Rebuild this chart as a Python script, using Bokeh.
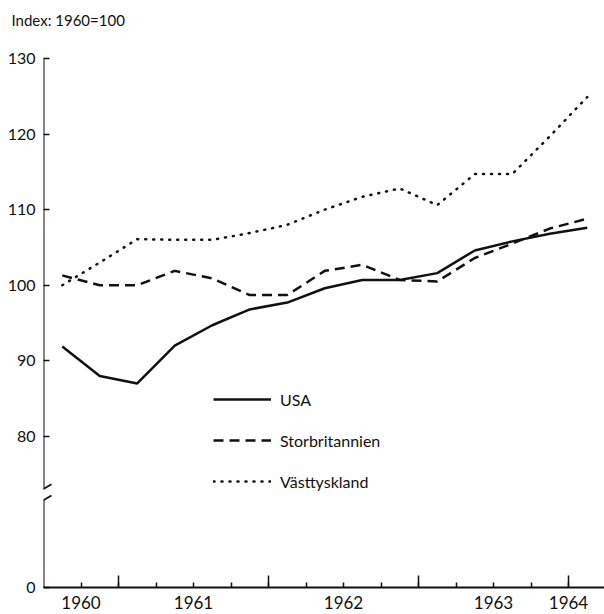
from bokeh.plotting import figure
from bokeh.models import FixedTicker, Legend, LegendItem, Arrow, Range1d
from bokeh.embed import file_html
from bokeh.resources import INLINE

# ---- data (quarterly index, 1960 = 100) ----
quarters = ["1960Q3", "1960Q4", "1961Q1", "1961Q2", "1961Q3", "1961Q4",
            "1962Q1", "1962Q2", "1962Q3", "1962Q4", "1963Q1", "1963Q2",
            "1963Q3", "1963Q4", "1964Q1"]
usa = [91.9, 88.0, 87.0, 92.0, 94.7, 96.8, 97.7, 99.6, 100.7, 100.7,
       101.6, 104.6, 105.8, 106.8, 107.6]
storbritannien = [101.3, 100.0, 100.0, 101.9, 100.9, 98.7, 98.7, 101.9,
                  102.7, 100.7, 100.5, 103.6, 105.5, 107.5, 108.8]
vasttyskland = [100.0, 103.0, 106.1, 106.0, 106.0, 106.9, 108.0, 110.0,
                111.7, 112.8, 110.6, 114.7, 114.7, 119.7, 124.9]

year_labels = {1960.75: "1960", 1961.5: "1961", 1962.5: "1962",
               1963.5: "1963", 1964.0: "1964"}
year_bounds = [1961.0, 1962.0, 1963.0, 1964.0]
y_ticks = [60, 80, 90, 100, 110, 120, 130]
y_labels = {60: "0"}
BREAK_Y = 72.3
TITLE = "Index: 1960=100"

FONT = "Lato"


def qpos(q):
    yr, qq = q.split("Q")
    return int(yr) + (int(qq) - 0.5) / 4.0


x = [qpos(q) for q in quarters]

X0, X1 = 1960.5, 1964.24
p = figure(frame_width=561, frame_height=529,
           x_range=Range1d(X0, X1), y_range=Range1d(60, 130),
           output_backend="svg", toolbar_location=None,
           min_border_left=43, min_border_right=0,
           min_border_top=57, min_border_bottom=28)
p.outline_line_color = None
p.xgrid.visible = False
p.ygrid.visible = False
p.background_fill_color = "white"

ink = "#111111"

# second (blank) line lifts the title towards the top of the page
p.title.text = TITLE + "\n "
p.title.align = "left"
p.title.offset = -32
p.title.standoff = 20
p.title.vertical_align = "top"
p.title.text_font = FONT
p.title.text_font_size = "15px"
p.title.text_font_style = "normal"
p.title.text_color = ink

# x axis
quarter_ticks = [1960.75 + 0.25 * i for i in range(14)]
p.xaxis.ticker = FixedTicker(ticks=quarter_ticks, minor_ticks=[])
p.xaxis.major_label_overrides = {t: year_labels.get(t, "") for t in quarter_ticks}
p.xaxis.major_tick_in = 5
p.xaxis.major_tick_out = 0
p.xaxis.minor_tick_line_color = None
p.xaxis.axis_line_width = 2
p.xaxis.axis_line_color = ink
p.xaxis.major_tick_line_width = 1.5
p.xaxis.major_tick_line_color = ink
p.xaxis.major_label_standoff = 8
p.xaxis.major_label_text_font = FONT
p.xaxis.major_label_text_font_size = "17px"
p.xaxis.major_label_text_color = ink

# y axis
p.yaxis.ticker = FixedTicker(ticks=y_ticks, minor_ticks=[])
p.yaxis.major_label_overrides = y_labels
p.yaxis.major_tick_in = 6
p.yaxis.major_tick_out = 0
p.yaxis.minor_tick_line_color = None
p.yaxis.axis_line_color = None
p.yaxis.major_tick_line_width = 1.5
p.yaxis.major_tick_line_color = ink
p.yaxis.major_label_standoff = 8
p.yaxis.major_label_text_font = FONT
p.yaxis.major_label_text_font_size = "16px"
p.yaxis.major_label_text_color = ink

# y axis line with a break
for (y0, y1) in [(60, BREAK_Y - 0.8), (BREAK_Y + 0.8, 130)]:
    p.add_layout(Arrow(end=None, start=None, x_start=X0, y_start=y0,
                       x_end=X0, y_end=y1, line_width=2, line_color=ink))
for dy in (-0.75, 0.75):
    p.add_layout(Arrow(end=None, start=None, x_start=X0 - 0.053, y_start=BREAK_Y + dy - 0.62,
                       x_end=X0 + 0.053, y_end=BREAK_Y + dy + 0.62,
                       line_width=1.8, line_color=ink))

# long ticks at year boundaries
p.segment(x0=year_bounds, y0=[60] * 4, x1=year_bounds, y1=[61.6] * 4,
          line_width=1.5, line_color=ink)

r1 = p.line(x, usa, line_width=2.5, line_color=ink)
r2 = p.line(x, storbritannien, line_width=2.5, line_color=ink, line_dash="10 6")
r3 = p.line(x, vasttyskland, line_width=2.5, line_color=ink, line_dash="1 7",
            line_cap="round")

legend = Legend(items=[LegendItem(label="USA", renderers=[r1]),
                       LegendItem(label="Storbritannien", renderers=[r2]),
                       LegendItem(label="Västtyskland", renderers=[r3])],
                location=(170, 96), glyph_width=58, glyph_height=20,
                label_height=20, spacing=21, padding=0, margin=0,
                border_line_color=None, background_fill_alpha=0,
                label_standoff=9, label_text_font=FONT,
                label_text_font_size="16px", label_text_color=ink)
p.add_layout(legend)

open("out.html", "w").write(file_html(p, INLINE))
